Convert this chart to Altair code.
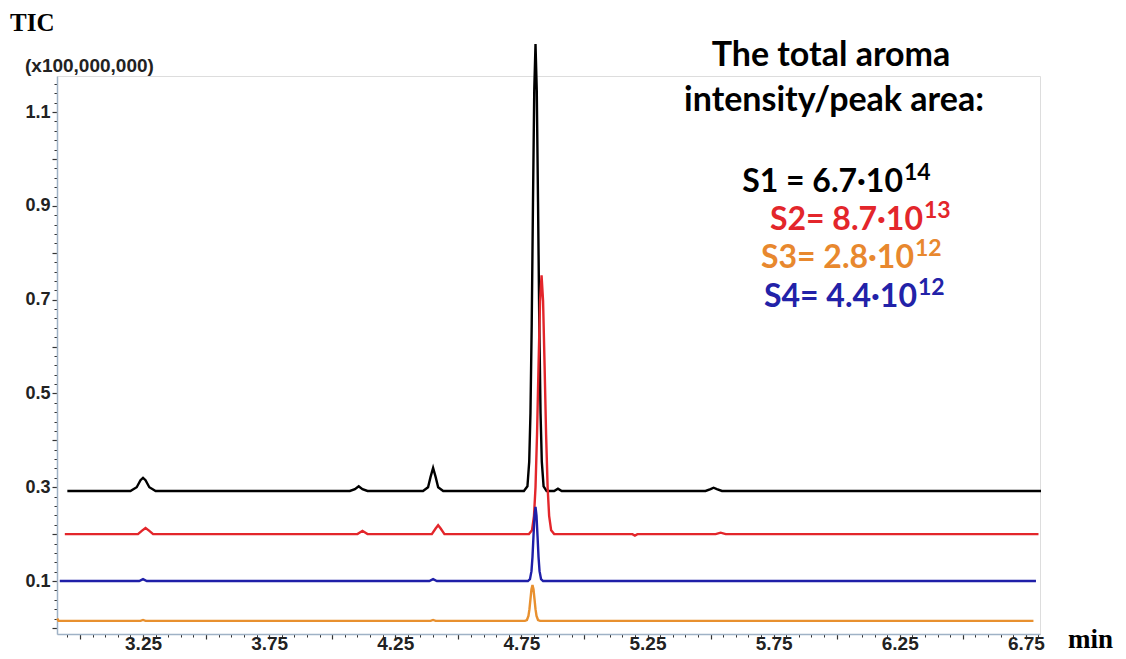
import altair as alt
import pandas as pd

# ---------------- data ----------------
series_names = ["S1", "S2", "S3", "S4"]
series_colors = ["#000000", "#E3262B", "#E8902F", "#1F1FA8"]

black_t = [2.95, 3.20, 3.225, 3.24, 3.25, 3.26, 3.275, 3.30,
           4.07, 4.09, 4.105, 4.12, 4.14,
           4.36, 4.38, 4.39, 4.40, 4.41, 4.42, 4.44,
           4.76, 4.774, 4.781, 4.786, 4.791, 4.796, 4.801, 4.806, 4.811, 4.816,
           4.821, 4.826, 4.831, 4.838, 4.85,
           4.88, 4.895, 4.91, 4.93,
           5.48, 5.50, 5.512, 5.525, 5.545, 6.81]
black_v = [0.292, 0.292, 0.300, 0.315, 0.320, 0.315, 0.300, 0.292,
           0.292, 0.296, 0.302, 0.296, 0.292,
           0.292, 0.300, 0.322, 0.341, 0.322, 0.300, 0.292,
           0.292, 0.302, 0.354, 0.458, 0.649, 0.908, 1.146, 1.245, 1.146, 0.908,
           0.649, 0.458, 0.354, 0.302, 0.292,
           0.292, 0.297, 0.292, 0.292,
           0.292, 0.296, 0.299, 0.296, 0.292, 0.292]

red_t = [2.94, 3.23, 3.245, 3.26, 3.275, 3.29,
         4.10, 4.12, 4.14,
         4.395, 4.41, 4.42, 4.43, 4.445,
         4.78, 4.792, 4.80, 4.806, 4.812, 4.818, 4.824, 4.83, 4.836, 4.842,
         4.848, 4.854, 4.86, 4.868, 4.88,
         5.19, 5.20, 5.21, 5.52, 5.54, 5.56, 6.80]
red_v = [0.200, 0.200, 0.207, 0.213, 0.207, 0.200,
         0.200, 0.207, 0.200,
         0.200, 0.212, 0.219, 0.212, 0.200,
         0.200, 0.208, 0.239, 0.300, 0.412, 0.559, 0.697, 0.752, 0.697, 0.559,
         0.412, 0.300, 0.239, 0.208, 0.200,
         0.200, 0.197, 0.200, 0.200, 0.203, 0.200, 0.200]

orange_t = [2.91, 2.915, 3.24, 3.25, 3.26, 4.39, 4.40, 4.41,
            4.76, 4.764, 4.772, 4.778, 4.782, 4.786, 4.79, 4.794, 4.798, 4.802,
            4.806, 4.81, 4.816, 4.824, 4.84, 6.78]
orange_v = [0.020, 0.015, 0.015, 0.017, 0.015, 0.015, 0.017, 0.015,
            0.015, 0.015, 0.0168, 0.0253, 0.0399, 0.0614, 0.0825, 0.0915, 0.0825, 0.0614,
            0.0399, 0.0253, 0.0168, 0.015, 0.015, 0.015]

blue_t = [2.92, 3.235, 3.25, 3.265, 4.385, 4.40, 4.415,
          4.77, 4.776, 4.784, 4.79, 4.794, 4.798, 4.802, 4.806, 4.81, 4.814,
          4.818, 4.822, 4.828, 4.836, 4.85, 6.79]
blue_v = [0.100, 0.100, 0.104, 0.100, 0.100, 0.104, 0.100,
          0.100, 0.100, 0.104, 0.121, 0.151, 0.196, 0.239, 0.258, 0.239, 0.196,
          0.151, 0.121, 0.104, 0.100, 0.100, 0.100]

x_label_values = [3.25, 3.75, 4.25, 4.75, 5.25, 5.75, 6.25, 6.75]
x_major_ticks = [3.0, 3.25, 3.5, 3.75, 4.0, 4.25, 4.5, 4.75, 5.0, 5.25, 5.5,
                 5.75, 6.0, 6.25, 6.5, 6.75]
x_minor_ticks = [round(2.95 + 0.05 * i, 2) for i in range(78)]
y_label_texts = ["0.1", "0.3", "0.5", "0.7", "0.9", "1.1"]
y_major_ticks = [0.0, 0.1, 0.2, 0.3, 0.4, 0.5, 0.6, 0.7, 0.8, 0.9, 1.0, 1.1]
y_minor_ticks = [round(0.02 * i, 2) for i in range(59)]

header_lines = ["The total aroma", "intensity/peak area:"]
s_main = ["S1 = 6.7·10", "S2= 8.7·10", "S3= 2.8·10", "S4= 4.4·10"]
s_exp = ["14", "13", "12", "12"]
s_color = ["#000000", "#E3262B", "#E8882E", "#2222A8"]

# ---------------- build table ----------------
frames = []
for name, t, v in [("S1", black_t, black_v), ("S2", red_t, red_v),
                   ("S3", orange_t, orange_v), ("S4", blue_t, blue_v)]:
    frames.append(pd.DataFrame({"series": name, "t": t, "v": v}))
df = pd.concat(frames, ignore_index=True)

W, H = 983, 558
x_scale = alt.Scale(domain=[2.909, 6.806], nice=False, zero=False)
y_scale = alt.Scale(domain=[-0.013, 1.177], nice=False, zero=False)

AX_COL = "#9FB2C6"
TICK_COL = "#333333"

x_lbl_expr = "indexof([" + ",".join(str(v) for v in x_label_values) + "], datum.value) >= 0 ? datum.label : ''"
y_lbl_expr = "indexof([" + ",".join("'" + s + "'" for s in y_label_texts) + "], datum.label) >= 0 ? datum.label : ''"

lines = alt.Chart(df).mark_line(strokeWidth=2.4).encode(
    x=alt.X("t:Q", scale=x_scale,
            axis=alt.Axis(orient="bottom", values=x_major_ticks, format=".2f",
                          labelExpr=x_lbl_expr, title=None, grid=False,
                          tickSize=5, tickColor=TICK_COL, tickWidth=1.2,
                          domainColor=AX_COL, domainWidth=1.5,
                          labelFont="Liberation Sans", labelFontSize=19,
                          labelFontWeight="bold", labelColor="#222222",
                          labelPadding=-5, labelOverlap=False, labelFlush=False)),
    y=alt.Y("v:Q", scale=y_scale,
            axis=alt.Axis(orient="left", values=y_major_ticks, format=".1f",
                          labelExpr=y_lbl_expr, title=None, grid=False,
                          tickSize=5, tickColor=TICK_COL, tickWidth=1.2,
                          domainColor=AX_COL, domainWidth=1.5,
                          labelFont="Liberation Sans", labelFontSize=18,
                          labelFontWeight="bold", labelColor="#222222",
                          labelPadding=2, labelOverlap=False, labelFlush=False)),
    color=alt.Color("series:N", scale=alt.Scale(domain=series_names, range=series_colors),
                    legend=None),
    detail="series:N",
)

minor = alt.Chart(df).mark_line(opacity=0).encode(
    x=alt.X("t:Q", scale=x_scale,
            axis=alt.Axis(orient="bottom", values=x_minor_ticks, labels=False,
                          domain=False, title=None, grid=False,
                          tickSize=3, tickColor=TICK_COL, tickWidth=1)),
    y=alt.Y("v:Q", scale=y_scale,
            axis=alt.Axis(orient="left", values=y_minor_ticks, labels=False,
                          domain=False, title=None, grid=False,
                          tickSize=3, tickColor=TICK_COL, tickWidth=1)),
    detail="series:N",
)

one = pd.DataFrame({"k": [0]})


def txt(text, x, y, size, color="#000000", font="Lato", align="left",
        baseline="alphabetic", weight="bold"):
    return alt.Chart(one).mark_text(
        text=text, align=align, baseline=baseline, font=font, fontSize=size,
        fontWeight=weight, color=color
    ).encode(x=alt.value(x), y=alt.value(y))


texts = [
    txt("TIC", -47, -45, 25, font="Liberation Serif"),
    txt("(x100,000,000)", -32, -4, 19, color="#222222", font="Liberation Sans"),
    txt("min", 1011, 572, 27, font="Liberation Serif"),
    txt(header_lines[0], 774, -10, 34, align="center"),
    txt(header_lines[1], 777, 35, 34, align="center"),
]
s_right = [846, 866, 857, 860]
s_base = [116, 154, 192, 231]
for i in range(4):
    texts.append(txt(s_main[i], s_right[i], s_base[i], 32, color=s_color[i], align="right"))
    texts.append(txt(s_exp[i], s_right[i] + 1, s_base[i] - 12, 23, color=s_color[i]))

chart = alt.layer(minor, lines, *texts).resolve_axis(
    x="independent", y="independent"
).properties(
    width=W, height=H,
    autosize=alt.AutoSizeParams(type="none"),
    padding={"left": 49, "top": 68, "right": 78, "bottom": 19},
).configure_view(stroke=None).configure(background="white")

chart.save("out.html", embed_options={"renderer": "svg", "actions": False})
